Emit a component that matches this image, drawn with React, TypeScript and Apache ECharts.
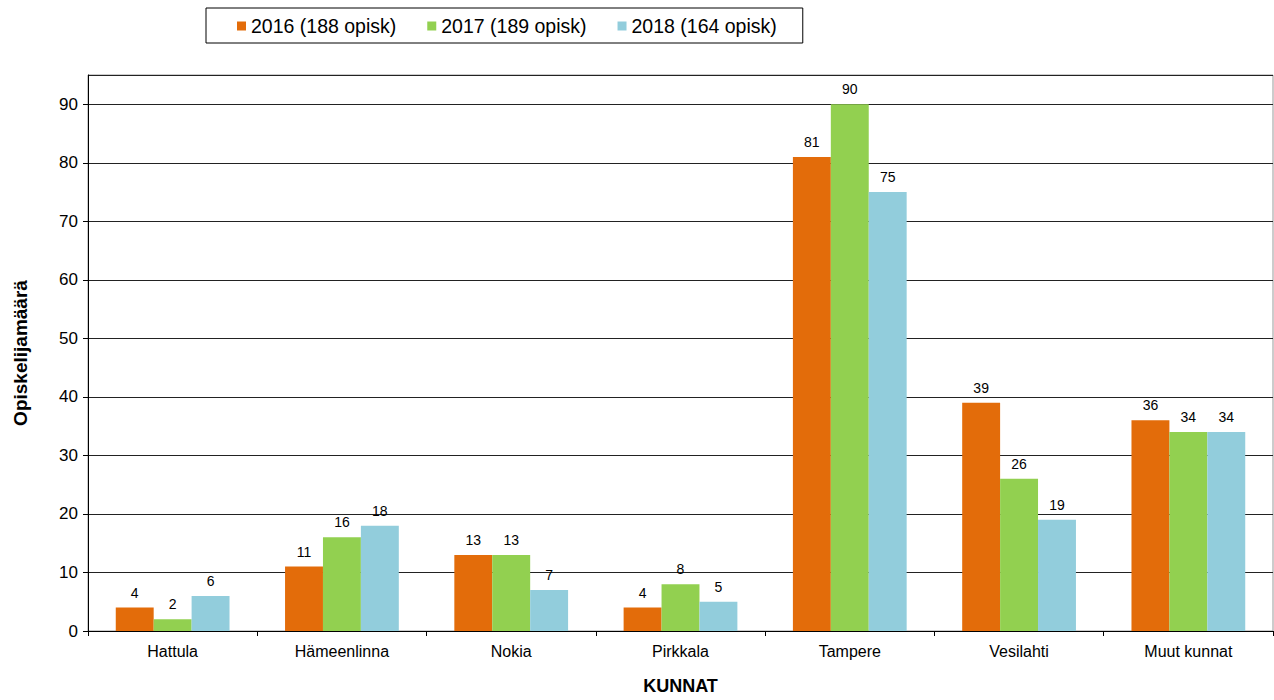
import React, { useEffect, useRef } from "react";
import * as echarts from "echarts";

const categories = ["Hattula", "Hämeenlinna", "Nokia", "Pirkkala", "Tampere", "Vesilahti", "Muut kunnat"];
const seriesNames = ["2016 (188 opisk)", "2017 (189 opisk)", "2018 (164 opisk)"];
const values2016 = [4, 11, 13, 4, 81, 39, 36];
const values2017 = [2, 16, 13, 8, 90, 26, 34];
const values2018 = [6, 18, 7, 5, 75, 19, 34];
const colors = ["#E36C0A", "#92D050", "#92CDDC"];

const FONT = "Liberation Sans, Arial, sans-serif";

export default function App() {
  const ref = useRef<HTMLDivElement>(null);
  useEffect(() => {
    if (!ref.current) return;
    const chart = echarts.init(ref.current, null, { renderer: "svg" });
    const data = [values2016, values2017, values2018];
    chart.setOption({
      animation: false,
      textStyle: { fontFamily: FONT },
      legend: {
        left: 206,
        top: 8,
        padding: [8, 26, 7, 31],
        itemGap: 31,
        itemWidth: 9,
        itemHeight: 9,
        icon: "rect",
        borderColor: "#000",
        borderWidth: 1,
        textStyle: { fontFamily: FONT, fontSize: 19.5, color: "#000" },
        data: seriesNames,
      },
      grid: {
        left: 88,
        right: 1,
        top: 75,
        bottom: 65,
        show: true,
        borderColor: "#999",
        borderWidth: 1,
      },
      xAxis: {
        type: "category",
        data: categories,
        name: "KUNNAT",
        nameLocation: "middle",
        nameGap: 46,
        nameTextStyle: { fontFamily: FONT, fontSize: 18, fontWeight: "bold", color: "#000" },
        axisLine: { show: true, lineStyle: { color: "#000", width: 1 } },
        axisTick: { show: true, length: 5, lineStyle: { color: "#000" } },
        axisLabel: { fontFamily: FONT, fontSize: 16, color: "#000", margin: 12 },
      },
      yAxis: {
        type: "value",
        min: 0,
        max: 95,
        interval: 10,
        name: "Opiskelijamäärä",
        nameLocation: "middle",
        nameGap: 58,
        nameRotate: 90,
        nameTextStyle: { fontFamily: FONT, fontSize: 19, fontWeight: "bold", color: "#000" },
        axisLine: { show: true, lineStyle: { color: "#000", width: 1 } },
        axisTick: { show: true, length: 5, lineStyle: { color: "#000" } },
        axisLabel: {
          fontFamily: FONT,
          fontSize: 17,
          color: "#000",
          margin: 10,
          showMaxLabel: false,
          formatter: (v: number) => (v % 10 === 0 ? String(v) : ""),
        },
        splitLine: { show: true, lineStyle: { color: "#222", width: 1 } },
      },
      series: seriesNames.map((name, i) => ({
        name,
        type: "bar",
        data: data[i],
        barWidth: "22.4%",
        barGap: "0%",
        itemStyle: { color: colors[i] },
        label: {
          show: true,
          position: "top",
          distance: 8,
          fontFamily: FONT,
          fontSize: 14,
          color: "#000",
        },
      })),
    });
    return () => chart.dispose();
  }, []);
  return <div ref={ref} style={{ width: 1274, height: 700, position: "absolute", left: 0, top: 0 }} />;
}
